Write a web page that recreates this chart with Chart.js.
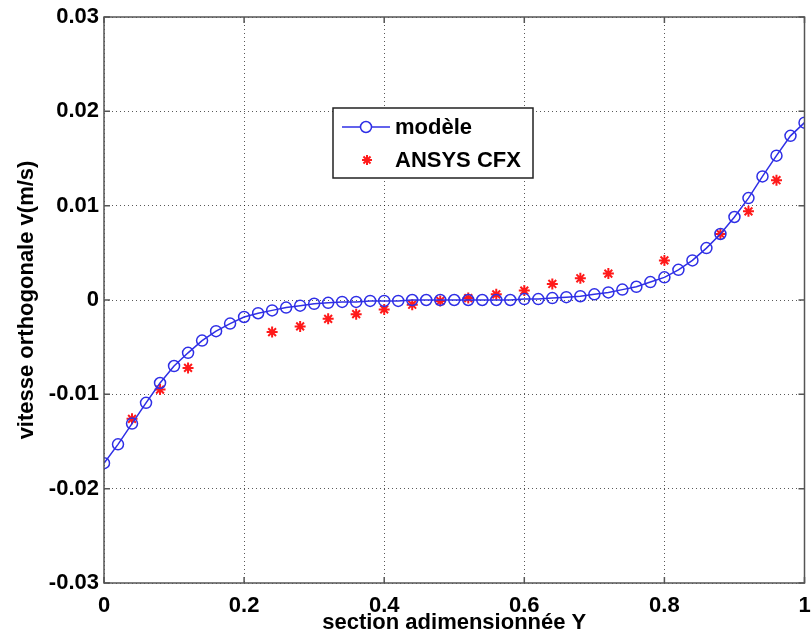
<!DOCTYPE html>
<html>
<head>
<meta charset="utf-8">
<script src="https://cdn.jsdelivr.net/npm/chart.js@4.4.0/dist/chart.umd.min.js"></script>
<style>
  body { margin: 0; background: #fff; }
  #wrap { width: 812px; height: 644px; }
</style>
</head>
<body>
<div id="wrap"><canvas id="profileChart" width="812" height="644"></canvas></div>
<script>
// model curve (blue, circles)
const xModel = [0, 0.02, 0.04, 0.06, 0.08, 0.10, 0.12, 0.14, 0.16, 0.18,
  0.20, 0.22, 0.24, 0.26, 0.28, 0.30, 0.32, 0.34, 0.36, 0.38,
  0.40, 0.42, 0.44, 0.46, 0.48, 0.50, 0.52, 0.54, 0.56, 0.58,
  0.60, 0.62, 0.64, 0.66, 0.68, 0.70, 0.72, 0.74, 0.76, 0.78,
  0.80, 0.82, 0.84, 0.86, 0.88, 0.90, 0.92, 0.94, 0.96, 0.98, 1.00];
const vModel = [-0.0173, -0.0153, -0.0131, -0.0109, -0.0088, -0.0070, -0.0056, -0.0043, -0.0033, -0.0025,
  -0.0018, -0.0014, -0.0011, -0.0008, -0.0006, -0.0004, -0.0003, -0.0002, -0.0002, -0.0001,
  -0.0001, -0.0001, 0.0000, 0.0000, 0.0000, 0.0000, 0.0000, 0.0000, 0.0000, 0.0000,
  0.0001, 0.0001, 0.0002, 0.0003, 0.0004, 0.0006, 0.0008, 0.0011, 0.0014, 0.0019,
  0.0024, 0.0032, 0.0042, 0.0055, 0.0070, 0.0088, 0.0108, 0.0131, 0.0153, 0.0174, 0.0188];

// ANSYS CFX points (red stars)
const xCfx = [0.04, 0.08, 0.12, 0.24, 0.28, 0.32, 0.36, 0.40, 0.44, 0.48,
  0.52, 0.56, 0.60, 0.64, 0.68, 0.72, 0.80, 0.88, 0.92, 0.96];
const vCfx = [-0.0126, -0.0095, -0.0072, -0.0034, -0.0028, -0.0020, -0.0015, -0.0010, -0.0005, -0.0001,
  0.0002, 0.0006, 0.0010, 0.0017, 0.0023, 0.0028, 0.0042, 0.0070, 0.0094, 0.0127];

const xTicks = [0, 0.2, 0.4, 0.6, 0.8, 1];
const yTicks = [-0.03, -0.02, -0.01, 0, 0.01, 0.02, 0.03];

const seriesNames = ["modèle", "ANSYS CFX"];
const blue = "#2f2fe6";
const red = "#ff1a1a";
const font = "\"Liberation Sans\", Arial, sans-serif";

function fmt(v) {
  return String(Number(v.toFixed(2)));
}

// box, inward ticks and the legend
const frameAndLegend = {
  id: "frameAndLegend",
  afterDatasetsDraw(chart) {
    const ctx = chart.ctx;
    const a = chart.chartArea;
    const xs = chart.scales.x, ys = chart.scales.y;
    ctx.save();
    ctx.strokeStyle = "#555";
    ctx.lineWidth = 1.5;
    ctx.strokeRect(a.left, a.top, a.right - a.left, a.bottom - a.top);
    ctx.beginPath();
    xTicks.forEach(t => {
      const px = xs.getPixelForValue(t);
      ctx.moveTo(px, a.bottom); ctx.lineTo(px, a.bottom - 6);
      ctx.moveTo(px, a.top); ctx.lineTo(px, a.top + 6);
    });
    yTicks.forEach(t => {
      const py = ys.getPixelForValue(t);
      ctx.moveTo(a.left, py); ctx.lineTo(a.left + 6, py);
      ctx.moveTo(a.right, py); ctx.lineTo(a.right - 6, py);
    });
    ctx.stroke();

    // legend box
    const lx = 333, ly = 108, lw = 200, lh = 70;
    ctx.fillStyle = "#fff";
    ctx.fillRect(lx, ly, lw, lh);
    ctx.strokeStyle = "#222";
    ctx.lineWidth = 1.5;
    ctx.strokeRect(lx, ly, lw, lh);

    ctx.strokeStyle = blue;
    ctx.lineWidth = 1.5;
    ctx.beginPath();
    ctx.moveTo(lx + 9, ly + 19);
    ctx.lineTo(lx + 57, ly + 19);
    ctx.stroke();
    Chart.helpers.drawPoint(ctx, { pointStyle: "circle", radius: 5.5, borderWidth: 1.5 }, lx + 33, ly + 19);
    ctx.strokeStyle = red;
    ctx.lineWidth = 2;
    Chart.helpers.drawPoint(ctx, { pointStyle: "star", radius: 5, borderWidth: 2 }, lx + 34, ly + 52);

    ctx.fillStyle = "#000";
    ctx.font = "bold 22px " + font;
    ctx.textBaseline = "middle";
    ctx.textAlign = "left";
    ctx.fillText(seriesNames[0], lx + 62, ly + 20);
    ctx.fillText(seriesNames[1], lx + 62, ly + 53);
    ctx.restore();
  }
};

const ctx = document.getElementById("profileChart").getContext("2d");
const chart = new Chart(ctx, {
  type: "line",
  data: {
    datasets: [
      {
        label: seriesNames[0],
        data: xModel.map((x, i) => ({ x: x, y: vModel[i] })),
        borderColor: blue,
        borderWidth: 1.5,
        backgroundColor: "rgba(0,0,0,0)",
        pointStyle: "circle",
        pointRadius: 5.5,
        pointBorderWidth: 1.5,
        pointBorderColor: blue,
        pointBackgroundColor: "rgba(0,0,0,0)",
        tension: 0
      },
      {
        label: seriesNames[1],
        data: xCfx.map((x, i) => ({ x: x, y: vCfx[i] })),
        showLine: false,
        pointStyle: "star",
        pointRadius: 5.5,
        pointBorderWidth: 2,
        pointBorderColor: red,
        pointBackgroundColor: red
      }
    ]
  },
  options: {
    responsive: false,
    animation: false,
    layout: { padding: { left: 0, right: 5, top: 17, bottom: 0 } },
    plugins: {
      legend: { display: false },
      tooltip: { enabled: false }
    },
    scales: {
      x: {
        type: "linear",
        min: 0,
        max: 1,
        afterBuildTicks: s => { s.ticks = xTicks.map(v => ({ value: v })); },
        afterFit: s => { s.height = 61; s.paddingLeft = 0; s.paddingRight = 0; },
        ticks: {
          color: "#000",
          font: { family: font, size: 22, weight: "bold" },
          padding: 10,
          maxRotation: 0,
          callback: v => fmt(v)
        },
        grid: { color: "rgba(0,0,0,0.65)", lineWidth: 1, drawTicks: false },
        border: { display: false, dash: [1, 3] },
        title: {
          display: true,
          text: "section adimensionnée Y",
          color: "#000",
          font: { family: font, size: 22, weight: "bold" },
          padding: { top: 0, bottom: 8 }
        }
      },
      y: {
        type: "linear",
        min: -0.03,
        max: 0.03,
        afterBuildTicks: s => { s.ticks = yTicks.map(v => ({ value: v })); },
        afterFit: s => { s.width = 104; s.paddingTop = 0; s.paddingBottom = 0; },
        ticks: {
          color: "#000",
          font: { family: font, size: 22, weight: "bold" },
          padding: 5,
          callback: v => fmt(v)
        },
        grid: { color: "rgba(0,0,0,0.65)", lineWidth: 1, drawTicks: false },
        border: { display: false, dash: [1, 3] },
        title: {
          display: true,
          text: "vitesse orthogonale v(m/s)",
          color: "#000",
          font: { family: font, size: 22, weight: "bold" },
          padding: { top: 14, bottom: 0 }
        }
      }
    }
  },
  plugins: [frameAndLegend]
});
</script>
</body>
</html>
